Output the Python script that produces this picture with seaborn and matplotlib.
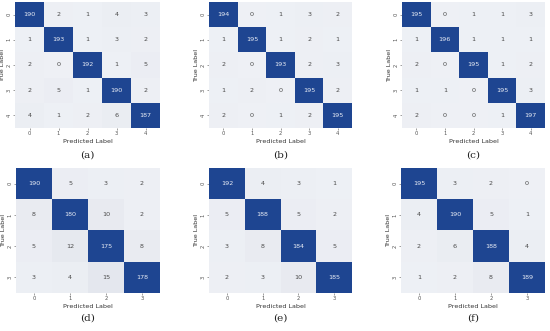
"""
plot.py
-------
Six confusion matrices (a)-(f): 5-class models on top, 4-class models below.
"""

import numpy as np
import matplotlib.pyplot as plt
import seaborn as sns
from matplotlib.colors import LinearSegmentedColormap

sns.set_style("white")

# confusion matrices (rows = true, cols = predicted)
cm_a = [[190, 2, 1, 4, 3],
        [1, 193, 1, 3, 2],
        [2, 0, 192, 1, 5],
        [2, 5, 1, 190, 2],
        [4, 1, 2, 6, 187]]
cm_b = [[194, 0, 1, 3, 2],
        [1, 195, 1, 2, 1],
        [2, 0, 193, 2, 3],
        [1, 2, 0, 195, 2],
        [2, 0, 1, 2, 195]]
cm_c = [[195, 0, 1, 1, 3],
        [1, 196, 1, 1, 1],
        [2, 0, 195, 1, 2],
        [1, 1, 0, 195, 3],
        [2, 0, 0, 1, 197]]
cm_d = [[190, 5, 3, 2],
        [8, 180, 10, 2],
        [5, 12, 175, 8],
        [3, 4, 15, 178]]
cm_e = [[192, 4, 3, 1],
        [5, 188, 5, 2],
        [3, 8, 184, 5],
        [2, 3, 10, 185]]
cm_f = [[195, 3, 2, 0],
        [4, 190, 5, 1],
        [2, 6, 188, 4],
        [1, 2, 8, 189]]

matrices = [cm_a, cm_b, cm_c, cm_d, cm_e, cm_f]
captions = ["(a)", "(b)", "(c)", "(d)", "(e)", "(f)"]

W, H = 550, 331
# axes boxes in pixels: left, top, right, bottom
boxes = [(15, 2, 160, 128), (209, 2, 352, 128), (402, 2, 545, 128),
         (16, 168, 160, 293), (209, 168, 352, 293), (401, 168, 545, 293)]
caption_y = [155, 155, 155, 318, 318, 318]

# light grey for small counts, saturating to navy well before the max
cmap = LinearSegmentedColormap.from_list(
    "cm", [(0.0, "#eef0f5"), (0.08, "#e3e6ed"), (0.3, "#c9d0e0"),
           (0.8, "#1e4591"), (1.0, "#1e4591")])

fig = plt.figure(figsize=(W / 100, H / 100), dpi=100)

for cm, cap, (l, t, r, b), cy in zip(matrices, captions, boxes, caption_y):
    ax = fig.add_axes([l / W, 1 - b / H, (r - l) / W, (b - t) / H])
    arr = np.array(cm)
    sns.heatmap(arr, annot=True, fmt="d", cmap=cmap, cbar=False, ax=ax,
                vmin=0, vmax=200, annot_kws={"fontsize": 4.6})
    for txt in ax.texts:
        if int(txt.get_text()) < 100:
            txt.set_color("#4a4a4a")
        else:
            txt.set_color("#e8ecf5")
    ax.set_xlabel("Predicted Label", fontsize=4.6, color="#333333")
    ax.set_ylabel("True Label", fontsize=4.6, color="#333333")
    ax.xaxis.set_label_coords(0.5, -11 / (b - t))
    ax.yaxis.set_label_coords(-10 / (r - l), 0.5)
    ax.tick_params(axis="both", labelsize=3.8, length=1.5, width=0.4, pad=1,
                   colors="#555555", left=True, bottom=True)
    for lab in ax.get_yticklabels():
        lab.set_rotation(90)
        lab.set_va("center")
    fig.text((l + r) / 2 / W, 1 - cy / H, cap, ha="center", va="center",
             fontsize=7.5, family="DejaVu Serif", color="#222222")

fig.savefig("out.png", dpi=100)
